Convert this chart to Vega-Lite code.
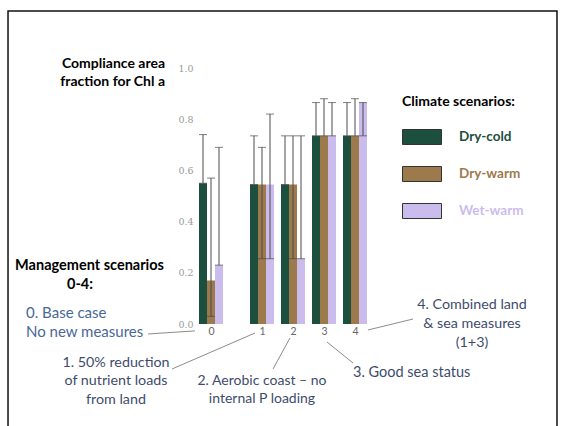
{
  "$schema": "https://vega.github.io/schema/vega-lite/v6.json",
  "width": 562,
  "height": 426,
  "autosize": {"type": "none"},
  "padding": 0,
  "background": "white",
  "config": {"view": {"stroke": null}, "font": "Lato"},
  "datasets": {
    "scores": [
      {"scenario": 0, "climate": "Dry-cold", "value": 0.55, "low": 0.55, "high": 0.74},
      {"scenario": 0, "climate": "Dry-warm", "value": 0.17, "low": 0.03, "high": 0.57},
      {"scenario": 0, "climate": "Wet-warm", "value": 0.23, "low": 0.23, "high": 0.69},
      {"scenario": 1, "climate": "Dry-cold", "value": 0.545, "low": 0.545, "high": 0.735},
      {"scenario": 1, "climate": "Dry-warm", "value": 0.545, "low": 0.255, "high": 0.69},
      {"scenario": 1, "climate": "Wet-warm", "value": 0.545, "low": 0.255, "high": 0.82},
      {"scenario": 2, "climate": "Dry-cold", "value": 0.545, "low": 0.545, "high": 0.735},
      {"scenario": 2, "climate": "Dry-warm", "value": 0.545, "low": 0.255, "high": 0.735},
      {"scenario": 2, "climate": "Wet-warm", "value": 0.255, "low": 0.255, "high": 0.735},
      {"scenario": 3, "climate": "Dry-cold", "value": 0.735, "low": 0.735, "high": 0.865},
      {"scenario": 3, "climate": "Dry-warm", "value": 0.735, "low": 0.735, "high": 0.88},
      {"scenario": 3, "climate": "Wet-warm", "value": 0.735, "low": 0.735, "high": 0.865},
      {"scenario": 4, "climate": "Dry-cold", "value": 0.735, "low": 0.735, "high": 0.865},
      {"scenario": 4, "climate": "Dry-warm", "value": 0.735, "low": 0.735, "high": 0.88},
      {"scenario": 4, "climate": "Wet-warm", "value": 0.865, "low": 0.735, "high": 0.865}
    ]
  },
  "layer": [
    {
      "data": {"values": [{}]},
      "mark": {"type": "rect", "fill": "white", "fillOpacity": 0, "stroke": "#111111", "strokeWidth": 1.5},
      "encoding": {
        "x": {"datum": -3.98},
        "x2": {"datum": 10.516},
        "y": {"datum": 1.2227},
        "y2": {"datum": -0.45}
      }
    },
    {
      "data": {"name": "scores"},
      "transform": [{"filter": "datum.climate === 'Dry-cold'"}],
      "layer": [
        {
          "mark": {"type": "bar", "orient": "vertical", "width": 8, "xOffset": -8},
          "encoding": {
            "x": {
              "field": "scenario", "type": "quantitative",
              "scale": {"type": "linear", "domain": [0, 1, 4], "range": [211, 262, 355], "nice": false, "zero": false, "padding": 0},
              "axis": {"values": [0, 1, 2, 3, 4], "format": "d", "labelFont": "Lato", "labelFontSize": 10.5, "labelColor": "#666666", "ticks": false, "domain": false, "grid": false, "title": null, "offset": -102, "labelPadding": 2, "labelFlush": false, "labelOverlap": false}
            },
            "y": {
              "field": "value", "type": "quantitative",
              "scale": {"type": "linear", "domain": [0, 1], "range": [324, 68], "nice": false, "zero": false, "padding": 0},
              "axis": {"values": [0, 0.2, 0.4, 0.6, 0.8, 1], "format": ".1f", "labelFont": "DejaVu Serif", "labelFontSize": 9.5, "labelColor": "#9a9a9a", "ticks": false, "domain": false, "grid": false, "title": null, "offset": -196, "labelPadding": 3, "labelFlush": false, "labelOverlap": false}
            },
            "color": {
              "field": "climate", "type": "nominal",
              "scale": {"domain": ["Dry-cold", "Dry-warm", "Wet-warm"], "range": ["#1d4f3e", "#9d7a4c", "#cbbcee"]},
              "legend": {
                "orient": "none", "legendX": 402, "legendY": 95, "padding": 0,
                "title": "Climate scenarios:", "titleFont": "Lato", "titleFontSize": 14, "titleFontWeight": "bold", "titleColor": "#000000", "titlePadding": 12.5,
                "labelFont": "Lato", "labelFontSize": 13.5, "labelFontWeight": "bold", "labelOffset": 21.5,
                "symbolType": "M-1.3,-0.5H1.3V0.5H-1.3Z", "symbolSize": 900, "symbolStrokeColor": "#333333", "symbolStrokeWidth": 1, "symbolOffset": 4.5,
                "rowPadding": 12,
                "encode": {"labels": {"update": {"fill": {"scale": "color", "field": "value"}}}}
              }
            }
          }
        },
        {
          "mark": {"type": "rule", "xOffset": -8, "color": "#4a4a4a", "strokeWidth": 1},
          "encoding": {"x": {"field": "scenario", "type": "quantitative"}, "y": {"field": "low", "type": "quantitative"}, "y2": {"field": "high"}}
        },
        {
          "mark": {"type": "tick", "orient": "horizontal", "size": 8, "thickness": 1, "xOffset": -8, "color": "#4a4a4a"},
          "encoding": {"x": {"field": "scenario", "type": "quantitative"}, "y": {"field": "high", "type": "quantitative"}}
        },
        {
          "mark": {"type": "tick", "orient": "horizontal", "size": 8, "thickness": 1, "xOffset": -8, "color": "#4a4a4a"},
          "encoding": {"x": {"field": "scenario", "type": "quantitative"}, "y": {"field": "low", "type": "quantitative"}}
        }
      ]
    },
    {
      "data": {"name": "scores"},
      "transform": [{"filter": "datum.climate === 'Dry-warm'"}],
      "layer": [
        {
          "mark": {"type": "bar", "orient": "vertical", "width": 8, "xOffset": 0},
          "encoding": {
            "x": {"field": "scenario", "type": "quantitative"},
            "y": {"field": "value", "type": "quantitative"},
            "color": {"field": "climate", "type": "nominal"}
          }
        },
        {
          "mark": {"type": "rule", "xOffset": 0, "color": "#4a4a4a", "strokeWidth": 1},
          "encoding": {"x": {"field": "scenario", "type": "quantitative"}, "y": {"field": "low", "type": "quantitative"}, "y2": {"field": "high"}}
        },
        {
          "mark": {"type": "tick", "orient": "horizontal", "size": 8, "thickness": 1, "xOffset": 0, "color": "#4a4a4a"},
          "encoding": {"x": {"field": "scenario", "type": "quantitative"}, "y": {"field": "high", "type": "quantitative"}}
        },
        {
          "mark": {"type": "tick", "orient": "horizontal", "size": 8, "thickness": 1, "xOffset": 0, "color": "#4a4a4a"},
          "encoding": {"x": {"field": "scenario", "type": "quantitative"}, "y": {"field": "low", "type": "quantitative"}}
        }
      ]
    },
    {
      "data": {"name": "scores"},
      "transform": [{"filter": "datum.climate === 'Wet-warm'"}],
      "layer": [
        {
          "mark": {"type": "bar", "orient": "vertical", "width": 8, "xOffset": 8},
          "encoding": {
            "x": {"field": "scenario", "type": "quantitative"},
            "y": {"field": "value", "type": "quantitative"},
            "color": {"field": "climate", "type": "nominal"}
          }
        },
        {
          "mark": {"type": "rule", "xOffset": 8, "color": "#4a4a4a", "strokeWidth": 1},
          "encoding": {"x": {"field": "scenario", "type": "quantitative"}, "y": {"field": "low", "type": "quantitative"}, "y2": {"field": "high"}}
        },
        {
          "mark": {"type": "tick", "orient": "horizontal", "size": 8, "thickness": 1, "xOffset": 8, "color": "#4a4a4a"},
          "encoding": {"x": {"field": "scenario", "type": "quantitative"}, "y": {"field": "high", "type": "quantitative"}}
        },
        {
          "mark": {"type": "tick", "orient": "horizontal", "size": 8, "thickness": 1, "xOffset": 8, "color": "#4a4a4a"},
          "encoding": {"x": {"field": "scenario", "type": "quantitative"}, "y": {"field": "low", "type": "quantitative"}}
        }
      ]
    },
    {
      "data": {"values": [{}]},
      "mark": {"type": "text", "align": "right", "baseline": "middle", "font": "Lato", "fontSize": 14, "fontWeight": "bold", "color": "#000000", "lineHeight": 18},
      "encoding": {"x": {"datum": -0.902}, "y": {"datum": 1.0156}, "text": {"value": ["Compliance area", "fraction for Chl a"]}}
    },
    {
      "data": {"values": [{}]},
      "mark": {"type": "text", "align": "right", "baseline": "middle", "font": "Lato", "fontSize": 14.5, "fontWeight": "bold", "color": "#000000"},
      "encoding": {"x": {"datum": -0.922}, "y": {"datum": 0.2266}, "text": {"value": "Management scenarios"}}
    },
    {
      "data": {"values": [{}]},
      "mark": {"type": "text", "align": "center", "baseline": "middle", "font": "Lato", "fontSize": 14.5, "fontWeight": "bold", "color": "#000000"},
      "encoding": {"x": {"datum": -2.569}, "y": {"datum": 0.152}, "text": {"value": "0-4:"}}
    },
    {
      "data": {"values": [{}]},
      "mark": {"type": "text", "align": "left", "baseline": "middle", "font": "Lato", "fontSize": 15, "color": "#4a6896", "lineHeight": 19.5},
      "encoding": {"x": {"datum": -3.627}, "y": {"datum": 0.043}, "text": {"value": ["0. Base case", "No new measures"]}}
    },
    {
      "data": {"values": [{}]},
      "mark": {"type": "text", "align": "center", "baseline": "middle", "font": "Lato", "fontSize": 14.3, "color": "#3e4c6c", "lineHeight": 18.5},
      "encoding": {"x": {"datum": -1.863}, "y": {"datum": -0.1523}, "text": {"value": ["1. 50% reduction", "of nutrient loads", "from land"]}}
    },
    {
      "data": {"values": [{}]},
      "mark": {"type": "text", "align": "center", "baseline": "middle", "font": "Lato", "fontSize": 14, "color": "#3e4c6c", "lineHeight": 18},
      "encoding": {"x": {"datum": 1.0}, "y": {"datum": -0.2227}, "text": {"value": ["2. Aerobic coast – no", "internal P loading"]}}
    },
    {
      "data": {"values": [{}]},
      "mark": {"type": "text", "align": "left", "baseline": "middle", "font": "Lato", "fontSize": 14.5, "color": "#3e4c6c"},
      "encoding": {"x": {"datum": 3.935}, "y": {"datum": -0.1895}, "text": {"value": "3. Good sea status"}}
    },
    {
      "data": {"values": [{}]},
      "mark": {"type": "text", "align": "center", "baseline": "middle", "font": "Lato", "fontSize": 14.3, "color": "#3e4c6c", "lineHeight": 19},
      "encoding": {"x": {"datum": 7.774}, "y": {"datum": 0.0742}, "text": {"value": ["4. Combined land", "& sea measures", "(1+3)"]}}
    },
    {
      "data": {"values": [{}]},
      "mark": {"type": "rule", "color": "#8c8c8c", "strokeWidth": 1},
      "encoding": {"x": {"datum": -1.235}, "y": {"datum": -0.039}, "x2": {"datum": -0.314}, "y2": {"datum": -0.027}}
    },
    {
      "data": {"values": [{}]},
      "mark": {"type": "rule", "color": "#8c8c8c", "strokeWidth": 1},
      "encoding": {"x": {"datum": -0.765}, "y": {"datum": -0.1758}, "x2": {"datum": 0.863}, "y2": {"datum": -0.0352}}
    },
    {
      "data": {"values": [{}]},
      "mark": {"type": "rule", "color": "#8c8c8c", "strokeWidth": 1},
      "encoding": {"x": {"datum": 1.903}, "y": {"datum": -0.0547}, "x2": {"datum": 1.355}, "y2": {"datum": -0.1758}}
    },
    {
      "data": {"values": [{}]},
      "mark": {"type": "rule", "color": "#8c8c8c", "strokeWidth": 1},
      "encoding": {"x": {"datum": 3.097}, "y": {"datum": -0.0703}, "x2": {"datum": 3.935}, "y2": {"datum": -0.1523}}
    },
    {
      "data": {"values": [{}]},
      "mark": {"type": "rule", "color": "#8c8c8c", "strokeWidth": 1},
      "encoding": {"x": {"datum": 4.419}, "y": {"datum": -0.0234}, "x2": {"datum": 5.871}, "y2": {"datum": 0.0195}}
    }
  ]
}
